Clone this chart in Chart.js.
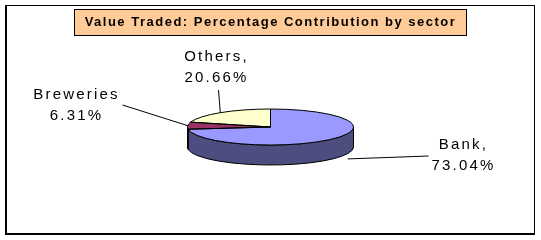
<!DOCTYPE html>
<html>
<head>
<meta charset="utf-8">
<script src="https://cdn.jsdelivr.net/npm/chart.js@4/dist/chart.umd.min.js"></script>
<style>
    html, body { margin: 0; padding: 0; background: #fff; }
    canvas { display: block; }
</style>
</head>
<body>
<canvas id="chartValueTraded" width="541" height="240"></canvas>
<script>
(function () {
    "use strict";

    // data
    const sectors = ["Bank", "Breweries", "Others"];
    const shares = [73.04, 6.31, 20.66];
    const labelNames = ["Bank,", "Breweries", "Others,"];
    const titleText = "Value Traded: Percentage Contribution by sector";

    const topColors = ["#9999ff", "#993366", "#ffffcc"];
    const sideColors = ["#4d4d80", "#4d1a33", "#80805f"];

    const fontFamily = '"Liberation Sans", Arial, sans-serif';
    const squash = 18 / 83;   // vertical flattening of the pie
    const depth = 20;         // thickness of the pie wall

    // label placement relative to the pie centre: text centre, leader start, leader end nudge
    const labelLayout = [
        { tx: 193, ty: 28, lx: 158, ly: 29, nudge: 15 },
        { tx: -194, ty: -22, lx: -148, ly: -22, nudge: 0 },
        { tx: -54, ty: -60, lx: -52, ly: -37, nudge: 0 }
    ];

    function frontRanges(a1, a2) {
        const out = [];
        for (const base of [-2 * Math.PI, 0, 2 * Math.PI]) {
            const s = Math.max(a1, base), e = Math.min(a2, base + Math.PI);
            if (e > s) out.push([s, e]);
        }
        return out;
    }

    const pie3d = {
        id: "pie3d",
        beforeDraw(chart) {
            const ctx = chart.ctx;
            ctx.save();
            ctx.fillStyle = "#fff";
            ctx.fillRect(0, 0, chart.width, chart.height);
            // outer frame
            ctx.strokeStyle = "#000";
            ctx.lineWidth = 1;
            ctx.strokeRect(5.5, 5.5, 529, 228);
            ctx.beginPath();
            ctx.moveTo(6.5, 5); ctx.lineTo(6.5, 234.5);
            ctx.moveTo(5, 234.5); ctx.lineTo(535, 234.5);
            ctx.stroke();
            // title box
            ctx.fillStyle = "#ffcc99";
            ctx.fillRect(74.5, 9.5, 392, 26);
            ctx.strokeRect(74.5, 9.5, 392, 26);
            ctx.restore();
            ctx.letterSpacing = "1.5px";
        },
        beforeDatasetsDraw(chart) {
            const ctx = chart.ctx;
            ctx.letterSpacing = "0px";
            const arcs = chart.getDatasetMeta(0).data;
            const { x, y, outerRadius } = arcs[0];
            const rx = outerRadius, ry = outerRadius * squash;
            ctx.save();
            ctx.strokeStyle = "#000";
            ctx.lineWidth = 1;
            arcs.forEach((arc, i) => {
                frontRanges(arc.startAngle, arc.endAngle).forEach(([s, e]) => {
                    ctx.beginPath();
                    ctx.ellipse(x, y, rx, ry, 0, s, e);
                    ctx.lineTo(x + rx * Math.cos(e), y + depth + ry * Math.sin(e));
                    ctx.ellipse(x, y + depth, rx, ry, 0, e, s, true);
                    ctx.closePath();
                    ctx.fillStyle = sideColors[i];
                    ctx.fill();
                    ctx.stroke();
                });
            });
            ctx.restore();
            // flatten the library's own pie into an ellipse
            ctx.save();
            ctx.translate(x, y);
            ctx.scale(1, squash);
            ctx.translate(-x, -y);
        },
        afterDatasetsDraw(chart) {
            const ctx = chart.ctx;
            ctx.restore();
            const arcs = chart.getDatasetMeta(0).data;
            const { x, y, outerRadius } = arcs[0];
            const rx = outerRadius, ry = outerRadius * squash;
            ctx.save();
            ctx.strokeStyle = "#000";
            ctx.lineWidth = 1;
            arcs.forEach((arc) => {
                ctx.beginPath();
                ctx.moveTo(x, y);
                ctx.ellipse(x, y, rx, ry, 0, arc.startAngle, arc.endAngle);
                ctx.closePath();
                ctx.stroke();
            });

            ctx.font = "15px " + fontFamily;
            ctx.letterSpacing = "2.2px";
            ctx.textAlign = "center";
            ctx.textBaseline = "middle";
            ctx.fillStyle = "#000";
            arcs.forEach((arc, i) => {
                const lay = labelLayout[i];
                const mid = (arc.startAngle + arc.endAngle) / 2;
                const front = Math.sin(mid) > 0;
                const ex = x + rx * Math.cos(mid) + lay.nudge;
                const ey = y + ry * Math.sin(mid) + (front ? depth : 0);
                ctx.beginPath();
                ctx.moveTo(x + lay.lx, y + lay.ly);
                ctx.lineTo(ex, ey);
                ctx.stroke();
                const pct = shares[i].toFixed(2) + "%";
                ctx.fillText(labelNames[i], x + lay.tx, y + lay.ty - 10);
                ctx.fillText(pct, x + lay.tx, y + lay.ty + 10.5);
            });
            ctx.restore();
        }
    };

    new Chart(document.getElementById("chartValueTraded"), {
        type: "pie",
        data: {
            labels: sectors,
            datasets: [{
                data: shares,
                backgroundColor: topColors,
                borderWidth: 0,
                hoverOffset: 0
            }]
        },
        options: {
            responsive: false,
            devicePixelRatio: 1,
            animation: false,
            events: [],
            layout: { padding: { top: 0, bottom: 30, left: 0, right: 0 } },
            plugins: {
                legend: { display: false },
                tooltip: { enabled: false },
                title: {
                    display: true,
                    text: titleText,
                    color: "#000",
                    font: { family: fontFamily, size: 13, weight: "bold", lineHeight: 1.2 },
                    padding: { top: 14.2, bottom: 14.2 }
                }
            }
        },
        plugins: [pie3d]
    });
})();
</script>
</body>
</html>
